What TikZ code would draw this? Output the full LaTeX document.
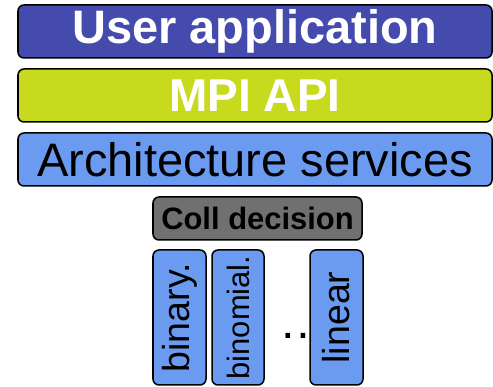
\documentclass[tikz,border=0pt]{standalone}
\usepackage{fontspec}
\setmainfont{Liberation Sans}
\usepackage{tkz-euclide}

\definecolor{userblue}{HTML}{454BAD}
\definecolor{mpigreen}{HTML}{C8DA1E}
\definecolor{archblue}{HTML}{6B9BF0}
\definecolor{collgray}{HTML}{707070}

\tikzset{
  layer/.style={draw=black, line width=1.07pt, rounded corners=4.3pt,
    inner sep=0pt, minimum width=11.85cm, minimum height=1.325cm},
  algo/.style={draw=black, line width=1.07pt, rounded corners=4.3pt,
    inner sep=0pt, fill=archblue, rotate=90,
    minimum width=3.375cm, minimum height=1.325cm}
}

\begin{document}
\begin{tikzpicture}
                    \useasboundingbox (0,0) rectangle (12.325,9.675);
                    \tkzDefPoints{6.375/8.8875/U,6.375/7.2875/M,6.375/5.6875/A,6.4375/4.2125/C}
                    \tkzDefPoints{4.4875/1.7375/B,5.95/1.7375/N,8.4125/1.7375/L,7.575/1.2/D}
                    % software stack
                    \node[layer, fill=userblue, text=white, font=\bfseries\fontsize{33.4}{36}\selectfont]
                        (user) at (U) {User application};
                    \node[layer, fill=mpigreen, text=white, font=\bfseries\fontsize{32.7}{36}\selectfont]
                        (mpi) at (M) {MPI API};
                    \node[layer, fill=archblue, font=\fontsize{33.4}{36}\selectfont]
                        (arch) at (A) {Architecture services};
                    \node[layer, fill=collgray, minimum width=5.225cm, minimum height=1.075cm,
                        font=\bfseries\fontsize{22}{24}\selectfont] (coll) at (C) {Coll decision};
                    % algorithms
                    \node[anchor=base, font=\fontsize{34}{36}\selectfont] (dots) at (D) {…};
                    \node[algo, font=\fontsize{26.7}{28}\selectfont] (binary) at (B) {binary.};
                    \node[algo, minimum height=1.3cm, font=\fontsize{22}{24}\selectfont] (binomial) at (N) {binomial.};
                    \node[algo, font=\fontsize{26.7}{28}\selectfont] (linear) at (L) {linear};
                \end{tikzpicture}
\end{document}
